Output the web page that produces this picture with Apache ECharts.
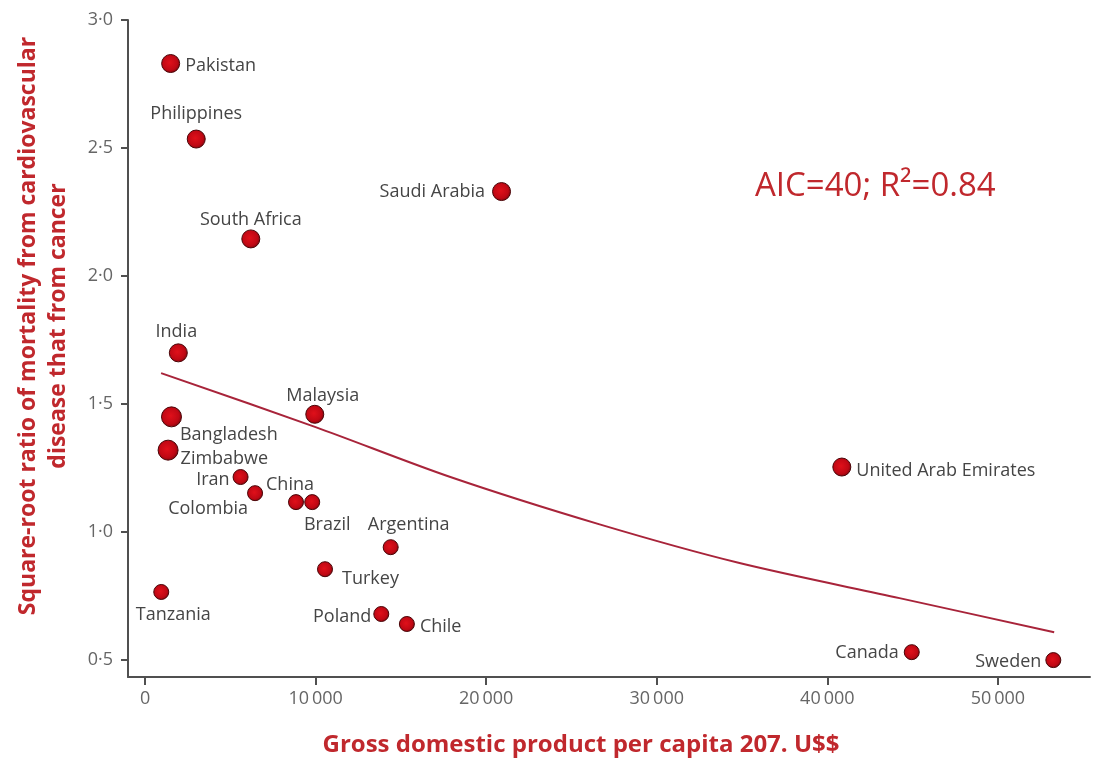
<!DOCTYPE html>
<html>
<head>
<meta charset="utf-8">
<script src="https://cdn.jsdelivr.net/npm/echarts@6/dist/echarts.min.js"></script>
<style>
  html, body { margin: 0; padding: 0; background: #fff; }
  #chart { width: 1093px; height: 758px; }
</style>
</head>
<body>
<div id="chart"></div>
<script>
// Countries: GDP per capita (US$) and square-root ratio of CVD to cancer mortality
const countries = ['Pakistan', 'Philippines', 'South Africa', 'Saudi Arabia', 'India',
  'Bangladesh', 'Zimbabwe', 'Malaysia', 'Iran', 'Colombia', 'China', 'Brazil',
  'Argentina', 'Turkey', 'Tanzania', 'Poland', 'Chile', 'United Arab Emirates',
  'Canada', 'Sweden'];
const gdp = [1500, 3000, 6200, 20900, 1950, 1550, 1350, 9950, 5600, 6450, 8850, 9800,
  14400, 10550, 950, 13850, 15350, 40850, 44950, 53250];
const ratio = [2.83, 2.535, 2.145, 2.33, 1.70, 1.45, 1.32, 1.46, 1.215, 1.152, 1.117,
  1.117, 0.941, 0.855, 0.766, 0.68, 0.641, 1.254, 0.531, 0.50];

// Fitted curve, read at points along its length
const fitX = [940, 10000, 17900, 26650, 34850, 44230, 53300];
const fitY = [1.621, 1.410, 1.215, 1.030, 0.879, 0.742, 0.609];

const xTicks = [0, 10000, 20000, 30000, 40000, 50000];
const yTicks = [0.5, 1.0, 1.5, 2.0, 2.5, 3.0];
const xTitle = 'Gross domestic product per capita 207. U$$';
const yTitle = 'Square-root ratio of mortality from cardiovascular\ndisease that from cancer';
const annotation = 'AIC=40; R\u00B2=0.84';

// Marker sizes and label placement per country
const bigMarkers = { 'Bangladesh': 20, 'Zimbabwe': 20, 'Pakistan': 18, 'Philippines': 18,
  'South Africa': 18, 'Saudi Arabia': 18, 'India': 18, 'Malaysia': 18, 'United Arab Emirates': 18 };
const labelPlace = {
  'Pakistan': { position: 'right', offset: [0, 2] },
  'Philippines': { position: 'top', offset: [0, -2] },
  'South Africa': { position: 'top', offset: [0, 4] },
  'Saudi Arabia': { position: 'left', offset: [-2, 0] },
  'India': { position: 'top', offset: [-2, 3] },
  'Bangladesh': { position: 'right', offset: [-7, 18] },
  'Zimbabwe': { position: 'right', offset: [-3, 9] },
  'Malaysia': { position: 'top', offset: [8, 5] },
  'Iran': { position: 'left', offset: [2, 3] },
  'Colombia': { position: 'bottom', offset: [-47, -6] },
  'China': { position: 'top', offset: [-6, 5] },
  'Brazil': { position: 'bottom', offset: [15, 1] },
  'Argentina': { position: 'top', offset: [18, 0] },
  'Turkey': { position: 'right', offset: [4, 10] },
  'Tanzania': { position: 'bottom', offset: [12, 1] },
  'Poland': { position: 'left', offset: [3, 3] },
  'Chile': { position: 'right', offset: [0, 3] },
  'United Arab Emirates': { position: 'right', offset: [0, 4] },
  'Canada': { position: 'left', offset: [0, 1] },
  'Sweden': { position: 'left', offset: [1, 2] }
};

const axisGrey = '#505050';
const titleRed = '#c0282d';
const labelFont = "'Open Sans', 'Lato', sans-serif";

const points = countries.map((name, i) => ({
  name: name,
  value: [gdp[i], ratio[i]],
  symbolSize: bigMarkers[name] || 15,
  label: labelPlace[name]
}));

const chart = echarts.init(document.getElementById('chart'), null, { renderer: 'canvas' });

chart.setOption({
  backgroundColor: '#ffffff',
  animation: false,
  grid: { left: 128, right: 3, top: 20, bottom: 81 },
  xAxis: {
    type: 'value',
    min: -1000,
    max: 55400,
    splitLine: { show: false },
    axisLine: { show: true, onZero: false, lineStyle: { color: axisGrey, width: 2 } },
    axisTick: { show: true, customValues: xTicks, length: 8, lineStyle: { color: axisGrey, width: 2 } },
    axisLabel: {
      customValues: xTicks,
      margin: 13,
      color: '#666',
      fontSize: 18,
      fontFamily: labelFont,
      formatter: v => v === 0 ? '0' : String(v / 1000) + '\u2009000'
    }
  },
  yAxis: {
    type: 'value',
    min: 0.434,
    max: 3.0,
    splitLine: { show: false },
    axisLine: { show: true, onZero: false, lineStyle: { color: axisGrey, width: 2 } },
    axisTick: { show: true, customValues: yTicks, length: 7, lineStyle: { color: axisGrey, width: 2 } },
    axisLabel: {
      customValues: yTicks,
      margin: 15,
      color: '#666',
      fontSize: 18,
      fontFamily: labelFont,
      formatter: v => v.toFixed(1).replace('.', '\u00B7')
    }
  },
  series: [
    {
      type: 'line',
      data: fitX.map((x, i) => [x, fitY[i]]),
      smooth: 0.3,
      showSymbol: false,
      lineStyle: { color: '#a8243a', width: 2 },
      z: 2
    },
    {
      type: 'scatter',
      data: points,
      itemStyle: {
        opacity: 1,
        color: {
          type: 'radial', x: 0.45, y: 0.45, r: 0.6,
          colorStops: [
            { offset: 0, color: '#e0101a' },
            { offset: 0.65, color: '#c00814' },
            { offset: 1, color: '#78060c' }
          ]
        },
        borderColor: '#4a0508',
        borderWidth: 1
      },
      label: {
        show: true,
        formatter: '{b}',
        color: '#454545',
        fontSize: 18,
        fontFamily: labelFont,
        distance: 5
      },
      z: 3
    }
  ],
  graphic: [
    {
      type: 'text',
      x: 755,
      y: 187,
      style: {
        text: annotation,
        fill: titleRed,
        font: "33px 'Open Sans', 'Lato', sans-serif",
        verticalAlign: 'middle'
      }
    },
    {
      type: 'text',
      x: 581,
      y: 745,
      style: {
        text: xTitle,
        fill: titleRed,
        font: "bold 24px 'Open Sans', 'Lato', sans-serif",
        align: 'center',
        verticalAlign: 'middle'
      }
    },
    {
      type: 'text',
      x: 43,
      y: 326,
      rotation: Math.PI / 2,
      style: {
        text: yTitle,
        fill: titleRed,
        font: "bold 23px 'Open Sans', 'Lato', sans-serif",
        lineHeight: 30,
        align: 'center',
        verticalAlign: 'middle'
      }
    }
  ]
});
</script>
</body>
</html>
